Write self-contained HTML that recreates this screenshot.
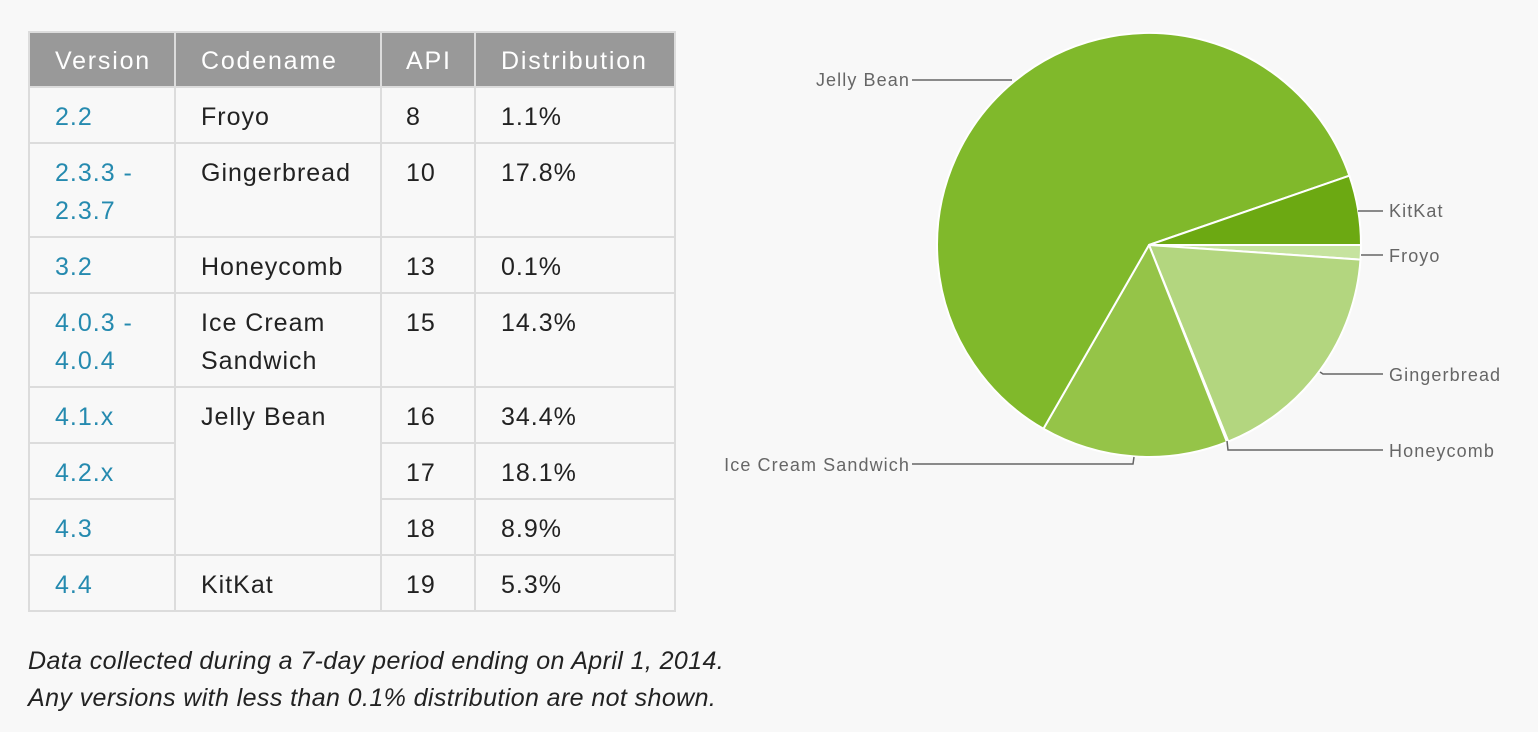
<!DOCTYPE html>
<html><head><meta charset="utf-8"><style>
html,body{margin:0;padding:0;background:#f8f8f8;}
svg{display:block;font-family:"Liberation Sans",sans-serif;}
</style></head><body>
<svg width="1538" height="732" viewBox="0 0 1538 732" xmlns="http://www.w3.org/2000/svg">
<rect width="1538" height="732" fill="#f8f8f8"/>
<rect x="28" y="32" width="647" height="55" fill="#999"/>
<g stroke="#dcdcdc" stroke-width="2" fill="none">
<rect x="29" y="32" width="646" height="579"/>
<line x1="175" y1="32" x2="175" y2="611"/>
<line x1="381" y1="32" x2="381" y2="611"/>
<line x1="475" y1="32" x2="475" y2="611"/>
<line x1="28" y1="87" x2="675" y2="87"/>
<line x1="28" y1="143" x2="675" y2="143"/>
<line x1="28" y1="237" x2="675" y2="237"/>
<line x1="28" y1="293" x2="675" y2="293"/>
<line x1="28" y1="387" x2="675" y2="387"/>
<line x1="28" y1="443" x2="175" y2="443"/>
<line x1="381" y1="443" x2="675" y2="443"/>
<line x1="28" y1="499" x2="175" y2="499"/>
<line x1="381" y1="499" x2="675" y2="499"/>
<line x1="28" y1="555" x2="675" y2="555"/>
</g>
<g font-size="25" fill="#fff" letter-spacing="1.8">
<text x="55" y="69">Version</text><text x="201" y="69">Codename</text><text x="406" y="69">API</text><text x="501" y="69">Distribution</text>
</g>
<g font-size="25" fill="#258aaf" letter-spacing="1">
<text x="55" y="125">2.2</text>
<text x="55" y="181">2.3.3 -</text><text x="55" y="219">2.3.7</text>
<text x="55" y="275">3.2</text>
<text x="55" y="331">4.0.3 -</text><text x="55" y="369">4.0.4</text>
<text x="55" y="425">4.1.x</text>
<text x="55" y="481">4.2.x</text>
<text x="55" y="537">4.3</text>
<text x="55" y="593">4.4</text>
</g>
<g font-size="25" fill="#222" letter-spacing="1">
<text x="201" y="125">Froyo</text><text x="406" y="125">8</text><text x="501" y="125">1.1%</text>
<text x="201" y="181">Gingerbread</text><text x="406" y="181">10</text><text x="501" y="181">17.8%</text>
<text x="201" y="275">Honeycomb</text><text x="406" y="275">13</text><text x="501" y="275">0.1%</text>
<text x="201" y="331">Ice Cream</text><text x="201" y="369">Sandwich</text><text x="406" y="331">15</text><text x="501" y="331">14.3%</text>
<text x="201" y="425">Jelly Bean</text><text x="406" y="425">16</text><text x="501" y="425">34.4%</text>
<text x="406" y="481">17</text><text x="501" y="481">18.1%</text>
<text x="406" y="537">18</text><text x="501" y="537">8.9%</text>
<text x="201" y="593">KitKat</text><text x="406" y="593">19</text><text x="501" y="593">5.3%</text>
</g>
<g font-size="25" font-style="italic" fill="#222" letter-spacing="0.4">
<text x="28" y="669">Data collected during a 7-day period ending on April 1, 2014.</text>
<text x="28" y="706">Any versions with less than 0.1% distribution are not shown.</text>
</g>
<g stroke="#fff" stroke-width="2" stroke-linejoin="round">
<path d="M1149 245 L1361 245 A212 212 0 0 1 1360.5 259.6 Z" fill="#c6e39e"/>
<path d="M1149 245 L1360.5 259.6 A212 212 0 0 1 1228.3 441.6 Z" fill="#b3d67f"/>
<path d="M1149 245 L1228.3 441.6 A212 212 0 0 1 1227 442.1 Z" fill="#a9d06c"/>
<path d="M1149 245 L1227 442.1 A212 212 0 0 1 1043.4 428.8 Z" fill="#95c448"/>
<path d="M1149 245 L1043.4 428.8 A212 212 0 1 1 1349.4 175.7 Z" fill="#80b92b"/>
<path d="M1149 245 L1349.4 175.7 A212 212 0 0 1 1361 245 Z" fill="#6ca912"/>
</g>
<g stroke="#666" stroke-width="1.5" fill="none">
<polyline points="912,80 1012,80"/>
<polyline points="1358,211 1383,211"/>
<polyline points="1361,255 1383,255"/>
<polyline points="1320,372 1323,374 1383,374"/>
<polyline points="1227,441 1228,450 1383,450"/>
<polyline points="912,464 1133,464 1134,457"/>
</g>
<g font-size="18" fill="#666" letter-spacing="1.1">
<text x="910" y="86" text-anchor="end">Jelly Bean</text>
<text x="1389" y="217">KitKat</text>
<text x="1389" y="262">Froyo</text>
<text x="1389" y="381">Gingerbread</text>
<text x="1389" y="457">Honeycomb</text>
<text x="910" y="471" text-anchor="end">Ice Cream Sandwich</text>
</g>
</svg>
</body></html>
